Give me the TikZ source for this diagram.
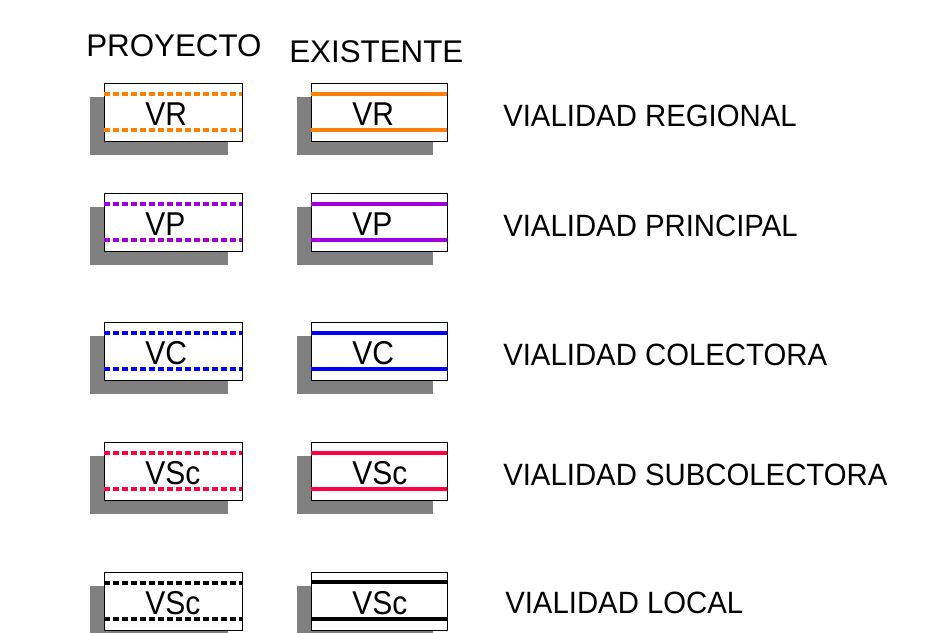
\documentclass[tikz,border=0pt]{standalone}
\usepackage{fontspec}
\setmainfont{Liberation Sans}
\usepackage{graphicx}

\definecolor{vrorange}{RGB}{255,128,0}
\definecolor{vppurple}{RGB}{160,0,220}
\definecolor{vcblue}{RGB}{0,0,255}
\definecolor{vscred}{RGB}{255,0,64}
\definecolor{shadegray}{RGB}{128,128,128}

\begin{document}
\begin{tikzpicture}[
        x=0.75pt, y=-0.75pt,
        shade box/.style={fill=shadegray},
        road box/.style={draw=black, fill=white, line width=1.1pt, anchor=north west, minimum width=103.5pt, minimum height=43.5pt, inner sep=0pt},
        proj line/.style={line width=2.5pt, dash pattern=on 4.5pt off 2.25pt},
        exist line/.style={line width=2.5pt},
        box label/.style={anchor=base west, inner sep=0pt, font=\fontsize{22.5}{26}\selectfont},
        road label/.style={anchor=base west, inner sep=0pt, font=\fontsize{22}{26}\selectfont},
        col head/.style={anchor=base west, inner sep=0pt, font=\fontsize{23.5}{27}\selectfont}
    ]
	\clip (0,0) rectangle (948,632);

	\node[col head] (proyecto) at (86,56) {PROYECTO};
	\node[col head] (existente) at (289,62) {EXISTENTE};

	% vialidad regional
	\fill[shade box] (90,97) rectangle ++(138,58);
	\node[road box] (vr_p) at (104,83) {};
	\draw[proj line, vrorange] (104,94) -- (242,94);
	\draw[proj line, vrorange] (104,130) -- (242,130);
	\node[box label] at (145,125) {\scalebox{1}[1.1]{VR}};
	\fill[shade box] (297,97) rectangle ++(136,58);
	\node[road box, minimum width=102pt] (vr_e) at (311,83) {};
	\draw[exist line, vrorange] (311,94) -- (447,94);
	\draw[exist line, vrorange] (311,130) -- (447,130);
	\node[box label] at (352,125) {\scalebox{1}[1.1]{VR}};
	\node[road label] (vr_l) at (503,126) {\scalebox{1}[1.05]{VIALIDAD REGIONAL}};

	% vialidad principal
	\fill[shade box] (90,207) rectangle ++(138,58);
	\node[road box] (vp_p) at (104,193) {};
	\draw[proj line, vppurple] (104,204) -- (242,204);
	\draw[proj line, vppurple] (104,240) -- (242,240);
	\node[box label] at (145,235) {\scalebox{1}[1.1]{VP}};
	\fill[shade box] (297,207) rectangle ++(136,58);
	\node[road box, minimum width=102pt] (vp_e) at (311,193) {};
	\draw[exist line, vppurple] (311,204) -- (447,204);
	\draw[exist line, vppurple] (311,240) -- (447,240);
	\node[box label] at (352,235) {\scalebox{1}[1.1]{VP}};
	\node[road label] (vp_l) at (503,236) {\scalebox{1}[1.05]{VIALIDAD PRINCIPAL}};

	% vialidad colectora
	\fill[shade box] (90,336) rectangle ++(138,58);
	\node[road box] (vc_p) at (104,322) {};
	\draw[proj line, vcblue] (104,333) -- (242,333);
	\draw[proj line, vcblue] (104,369) -- (242,369);
	\node[box label] at (145,364) {\scalebox{1}[1.1]{VC}};
	\fill[shade box] (297,336) rectangle ++(136,58);
	\node[road box, minimum width=102pt] (vc_e) at (311,322) {};
	\draw[exist line, vcblue] (311,333) -- (447,333);
	\draw[exist line, vcblue] (311,369) -- (447,369);
	\node[box label] at (352,364) {\scalebox{1}[1.1]{VC}};
	\node[road label] (vc_l) at (503,365) {\scalebox{1}[1.05]{VIALIDAD COLECTORA}};

	% vialidad subcolectora
	\fill[shade box] (90,456) rectangle ++(138,58);
	\node[road box] (vsc_p) at (104,442) {};
	\draw[proj line, vscred] (104,453) -- (242,453);
	\draw[proj line, vscred] (104,489) -- (242,489);
	\node[box label] at (145,484) {\scalebox{1}[1.1]{VSc}};
	\fill[shade box] (297,456) rectangle ++(136,58);
	\node[road box, minimum width=102pt] (vsc_e) at (311,442) {};
	\draw[exist line, vscred] (311,453) -- (447,453);
	\draw[exist line, vscred] (311,489) -- (447,489);
	\node[box label] at (352,484) {\scalebox{1}[1.1]{VSc}};
	\node[road label] (vsc_l) at (503,485) {\scalebox{1}[1.05]{VIALIDAD SUBCOLECTORA}};

	% vialidad local
	\fill[shade box] (90,586) rectangle ++(138,58);
	\node[road box] (vl_p) at (104,572) {};
	\draw[proj line, black] (104,583) -- (242,583);
	\draw[proj line, black] (104,619) -- (242,619);
	\node[box label] at (145,614) {\scalebox{1}[1.1]{VSc}};
	\fill[shade box] (297,586) rectangle ++(136,58);
	\node[road box, minimum width=102pt] (vl_e) at (311,572) {};
	\draw[exist line, black, line width=2.8pt] (311,582) -- (447,582);
	\draw[exist line, black, line width=2.8pt] (311,619) -- (447,619);
	\node[box label] at (352,614) {\scalebox{1}[1.1]{VSc}};
	\node[road label] (vl_l) at (505,613) {\scalebox{1}[1.05]{VIALIDAD LOCAL}};

\end{tikzpicture}
\end{document}
